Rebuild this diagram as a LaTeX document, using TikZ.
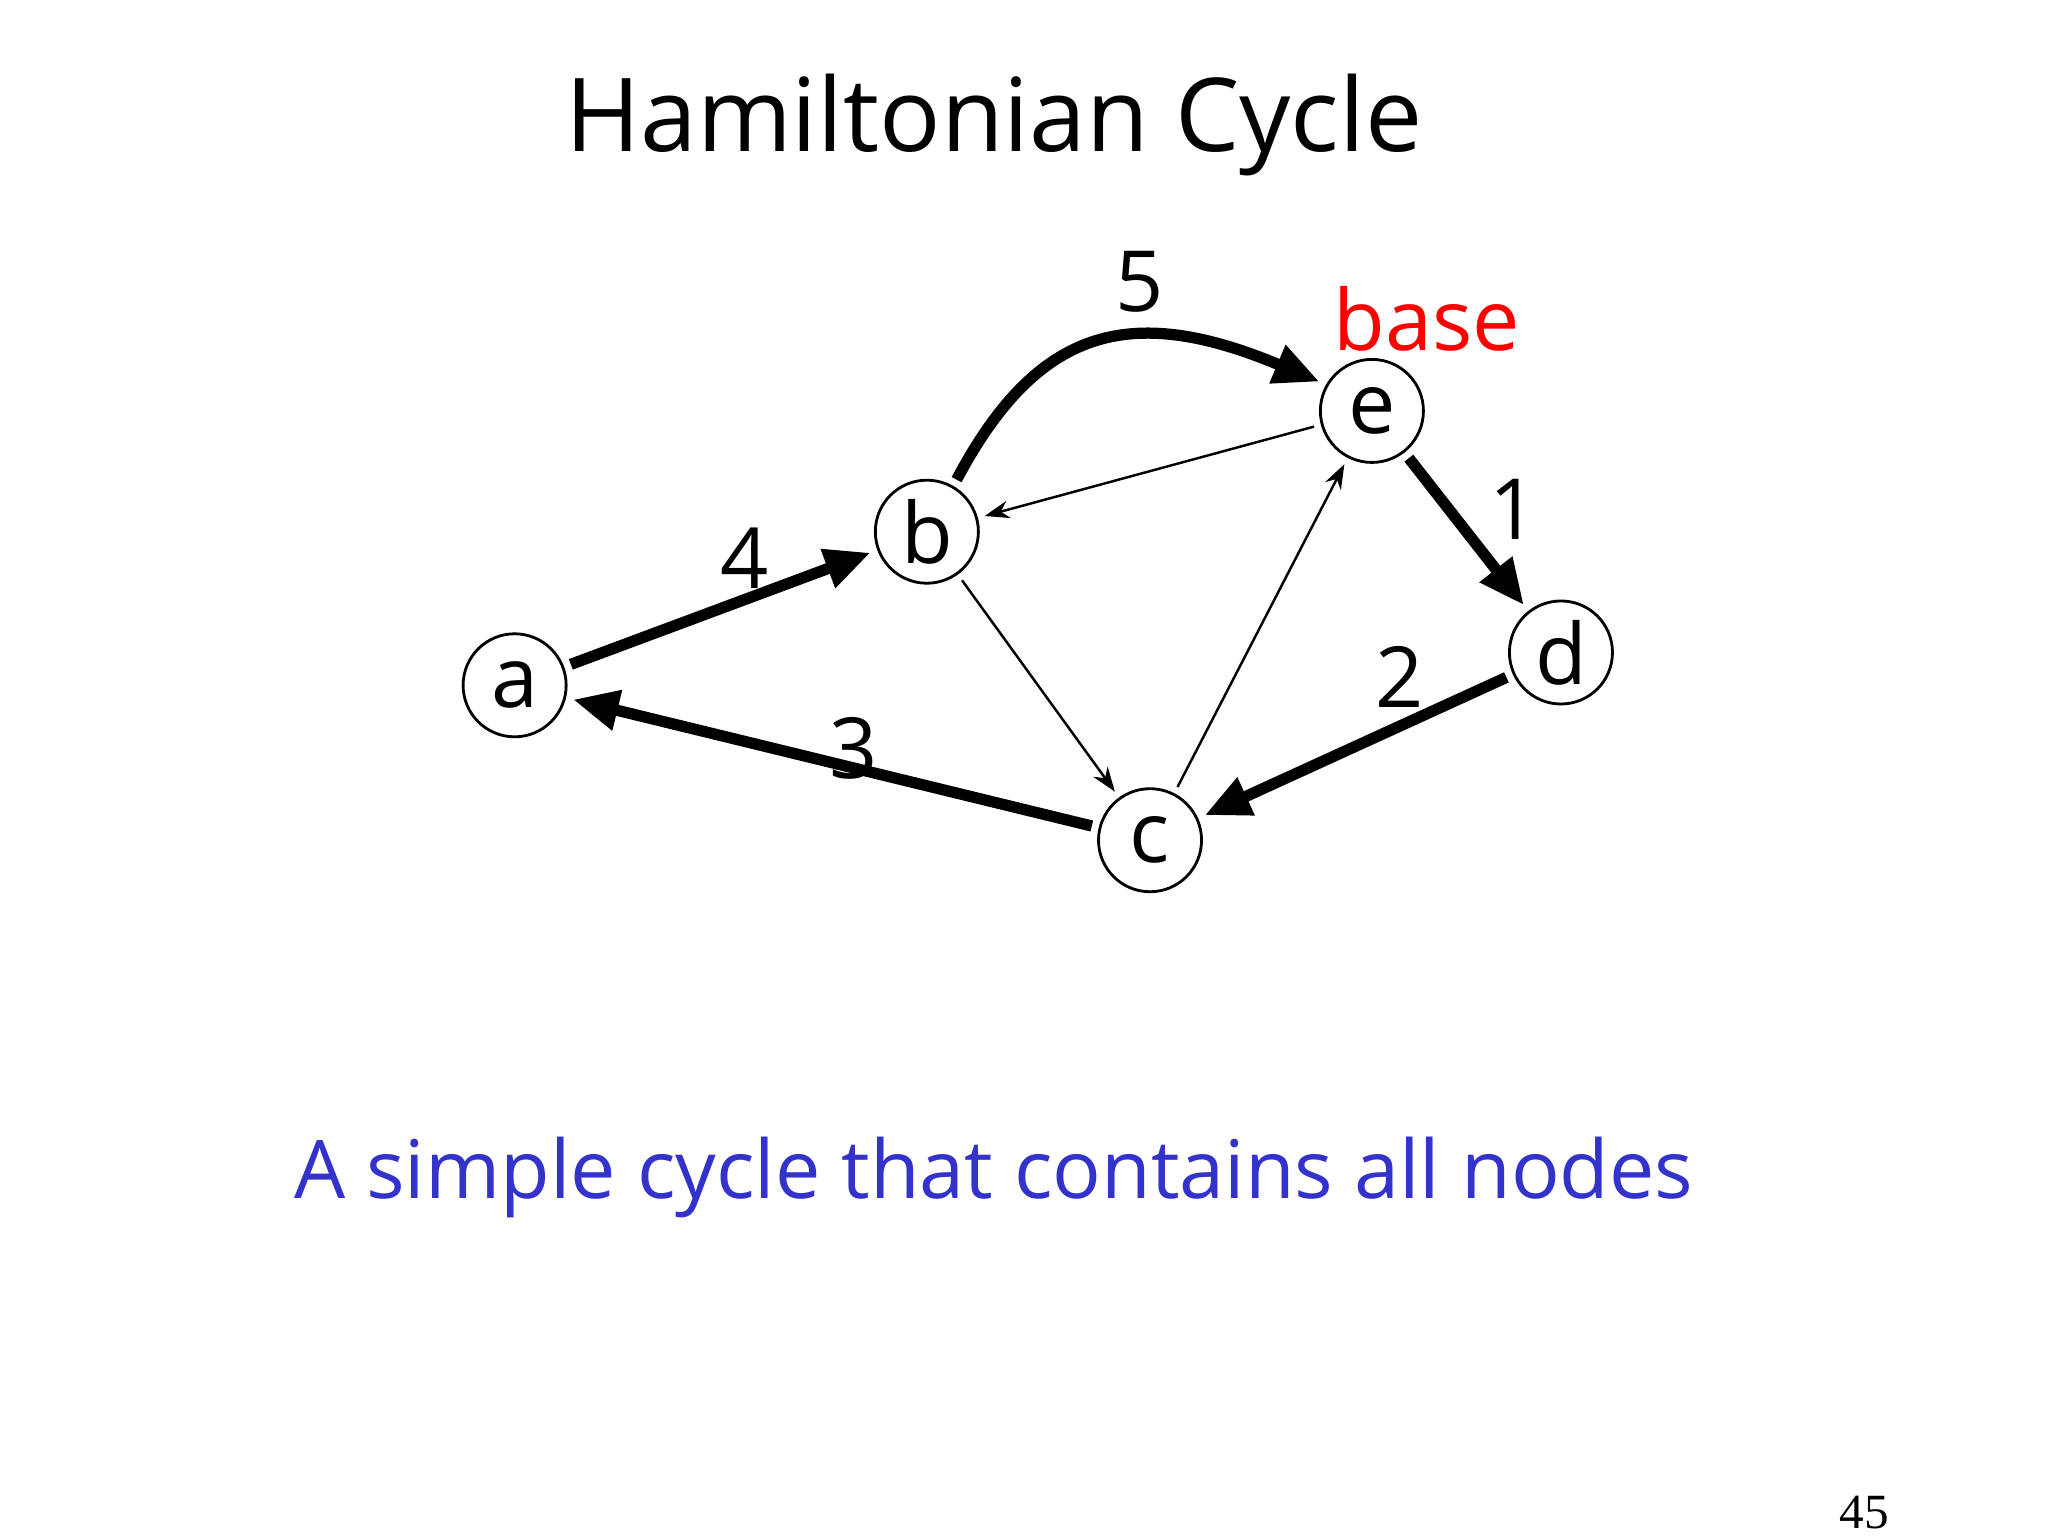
\documentclass[tikz,border=0pt]{standalone}
\usepackage{fontspec}
\setmainfont{Open Sans}
\newfontfamily\serifnum{Liberation Serif}
\usetikzlibrary{arrows.meta}
\definecolor{txtblue}{RGB}{51,51,204}
\begin{document}
\begin{tikzpicture}[x=0.013128cm,y=-0.013128cm,
  vtx/.style={circle,draw,line width=0.8pt,minimum size=1.03cm,inner sep=0pt,font=\fontsize{24}{28}\selectfont},
  thk/.style={line width=3.2pt,-{Triangle[length=13pt,width=11pt]},shorten >=2pt,shorten <=2pt},
  thn/.style={line width=0.7pt,-{Stealth[length=7pt,width=5pt]},shorten >=2pt,shorten <=2pt},
  lbl/.style={font=\fontsize{24}{28}\selectfont}]
\useasboundingbox (0,0) rectangle (1560,1170);
\node[font=\fontsize{29}{34}\selectfont] (title) at (757,95) {Hamiltonian Cycle};
\node[vtx] (a) at (392,522) {a};
\node[vtx] (b) at (706,405) {b};
\node[vtx] (e) at (1045,313) {e};
\node[vtx] (d) at (1189,497) {d};
\node[vtx] (c) at (876,640) {c};
\draw[thk] (e) -- (d);
\draw[thk] (d) -- (c);
\draw[thk] (c) -- (a);
\draw[thk] (a) -- (b);
\draw[thk] (b.60) .. controls (790,250) and (860,230) .. (e.150);
\draw[thn] (e) -- (b);
\draw[thn] (b) -- (c);
\draw[thn] (c) -- (e);
\node[lbl] (l5) at (868,215) {5};
\node[lbl,text=red] (lbase) at (1087,243) {base};
\node[lbl] (l1) at (1153,388) {1};
\node[lbl] (l4) at (567,425) {4};
\node[lbl] (l2) at (1066,516) {2};
\node[lbl] (l3) at (650,570) {3};
\node[font=\fontsize{23}{28}\selectfont,text=txtblue] (sub) at (757,897) {A simple cycle that contains all nodes};
\node[font=\serifnum\fontsize{14}{16}\selectfont] (pg) at (1420,1152) {45};
\end{tikzpicture}
\end{document}
